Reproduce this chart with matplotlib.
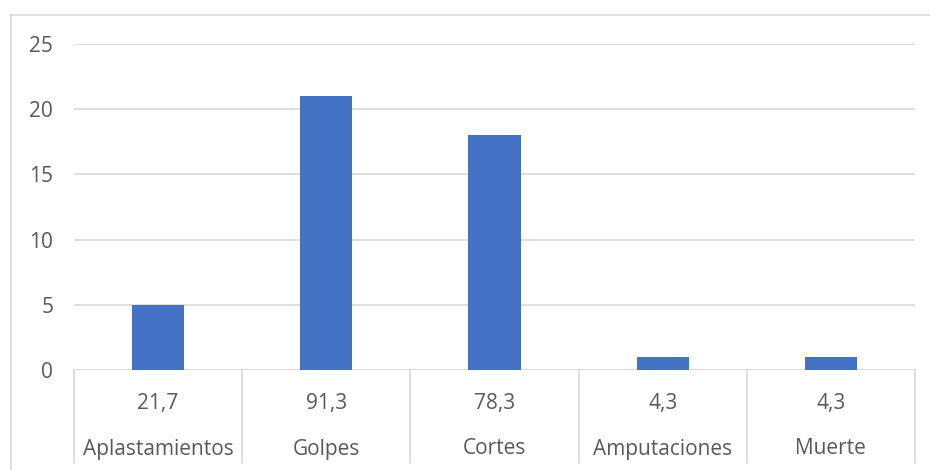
import matplotlib.pyplot as plt
import matplotlib.lines as mlines

categorias = ["Aplastamientos", "Golpes", "Cortes", "Amputaciones", "Muerte"]
valores = [5, 21, 18, 1, 1]
porcentajes = ["21,7", "91,3", "78,3", "4,3", "4,3"]
y_ticks = [0, 5, 10, 15, 20, 25]

GRIS_TEXTO = "#595959"
GRIS_LINEA = "#d9d9d9"
AZUL = "#4472c4"
TAM = 15

plt.rcParams['font.family'] = ['Open Sans', 'DejaVu Sans']

fig = plt.figure(figsize=(9.3, 4.7), dpi=100)

# marco exterior del grafico (solo arriba e izquierda visibles)
fig.add_artist(mlines.Line2D([11 / 930, 1.0], [1 - 15 / 470, 1 - 15 / 470],
                             color=GRIS_LINEA, lw=1.2))
fig.add_artist(mlines.Line2D([11 / 930, 11 / 930], [0, 1 - 15 / 470],
                             color=GRIS_LINEA, lw=1.2))

ax = fig.add_axes([74 / 930, 100 / 470, 841 / 930, 326 / 470])
x = list(range(len(categorias)))
ax.bar(x, valores, width=0.31, color=AZUL, zorder=3)
ax.set_xlim(-0.5, len(categorias) - 0.5)
ax.set_ylim(0, 25)
ax.set_yticks(y_ticks)
ax.set_yticklabels([str(t) for t in y_ticks], fontsize=TAM, color=GRIS_TEXTO)
ax.tick_params(axis='y', length=0, pad=15)
ax.set_xticks([])
ax.grid(axis='y', color=GRIS_LINEA, lw=1.2, zorder=0)
for s in ax.spines.values():
    s.set_visible(False)
ax.axhline(0, color=GRIS_LINEA, lw=1.2, zorder=2)

# tabla de categorias bajo el eje
tr = ax.get_xaxis_transform()
fondo = -93 / 326
for i in range(len(categorias) + 1):
    ax.add_line(mlines.Line2D([i - 0.5, i - 0.5], [0, fondo], transform=tr,
                              color=GRIS_LINEA, lw=1.2, clip_on=False))
for i, (p, c) in enumerate(zip(porcentajes, categorias)):
    ax.text(i, -33 / 326, p, transform=tr, ha='center', va='center',
            fontsize=TAM, color=GRIS_TEXTO)
    ax.text(i, -79 / 326, c, transform=tr, ha='center', va='center',
            fontsize=TAM, color=GRIS_TEXTO)

fig.savefig("out.png", dpi=100)
